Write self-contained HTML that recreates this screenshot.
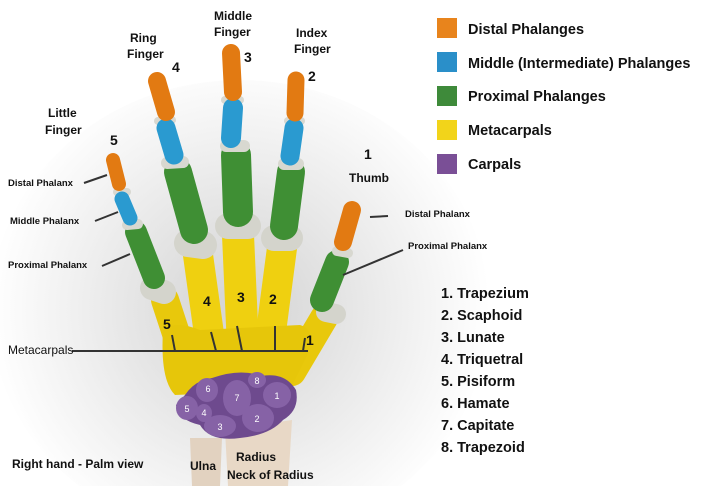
<!DOCTYPE html>
<html><head><meta charset="utf-8"><style>
html,body{margin:0;padding:0;background:#fff;overflow:hidden;width:720px;height:486px;}
svg{display:block;}
text{font-family:"Liberation Sans",sans-serif;fill:#111;}
</style></head><body>
<svg width="720" height="486" viewBox="0 0 720 486" xmlns="http://www.w3.org/2000/svg">
<defs>
<radialGradient id="bg" cx="240" cy="310" r="250" gradientUnits="userSpaceOnUse">
<stop offset="0" stop-color="#d2d2d2"/><stop offset="0.55" stop-color="#ebebeb"/><stop offset="1" stop-color="#ffffff"/>
</radialGradient>
</defs>
<rect width="720" height="486" fill="#fff"/>
<ellipse cx="240" cy="310" rx="250" ry="230" fill="url(#bg)"/>

<!-- forearm -->
<path d="M190 438 L222 438 L220 486 L192 486 Z" fill="#e2d2c0"/>
<path d="M225 430 L292 420 L288 486 L228 486 Z" fill="#e8d8c6"/>

<g stroke-linecap="round" fill="none">
<line x1="165" y1="300" x2="188" y2="370" stroke="#e8c80c" stroke-width="28"/>
<line x1="198" y1="255" x2="214" y2="370" stroke="#efd010" stroke-width="30"/>
<line x1="238" y1="235" x2="244" y2="370" stroke="#efd010" stroke-width="32"/>
<line x1="282" y1="248" x2="266" y2="370" stroke="#efd010" stroke-width="30"/>
<line x1="324" y1="318" x2="292" y2="372" stroke="#e8c80c" stroke-width="28"/>
</g>
<path d="M163 330 Q175 320 200 330 L300 325 Q318 330 305 360 L290 390 L175 395 Q160 380 163 330Z" fill="#e6c60a"/>
<g stroke-linecap="round" fill="none">
<line x1="152" y1="288" x2="164" y2="292" stroke="#d4d4cc" stroke-width="24"/>
<line x1="188" y1="243" x2="203" y2="245" stroke="#d4d4cc" stroke-width="28"/>
<line x1="228" y1="226" x2="248" y2="226" stroke="#d4d4cc" stroke-width="26"/>
<line x1="274" y1="238" x2="290" y2="238" stroke="#d4d4cc" stroke-width="26"/>
<line x1="326" y1="312" x2="336" y2="314" stroke="#d4d4cc" stroke-width="20"/>
<line x1="136" y1="232" x2="154" y2="278" stroke="#3f8f34" stroke-width="22"/>
<line x1="178" y1="172" x2="194" y2="230" stroke="#3f8f34" stroke-width="28"/>
<line x1="236" y1="155" x2="238" y2="212" stroke="#3f8f34" stroke-width="30"/>
<line x1="291" y1="172" x2="284" y2="226" stroke="#3f8f34" stroke-width="28"/>
<line x1="337" y1="262" x2="322" y2="300" stroke="#3f8f34" stroke-width="24"/>
<line x1="127" y1="225" x2="138" y2="224" stroke="#d8d8d0" stroke-width="10"/>
<line x1="167" y1="163" x2="183" y2="162" stroke="#d8d8d0" stroke-width="12"/>
<line x1="226" y1="146" x2="244" y2="146" stroke="#d8d8d0" stroke-width="12"/>
<line x1="284" y1="164" x2="298" y2="164" stroke="#d8d8d0" stroke-width="12"/>
<line x1="337" y1="251" x2="348" y2="253" stroke="#d8d8d0" stroke-width="10"/>
<line x1="117" y1="192" x2="127" y2="192" stroke="#d8d8d0" stroke-width="8"/>
<line x1="158" y1="121" x2="172" y2="120" stroke="#d8d8d0" stroke-width="8"/>
<line x1="225" y1="100" x2="240" y2="100" stroke="#d8d8d0" stroke-width="8"/>
<line x1="288" y1="121" x2="301" y2="121" stroke="#d8d8d0" stroke-width="8"/>
<line x1="122" y1="199" x2="130" y2="218" stroke="#2a9ad0" stroke-width="15"/>
<line x1="166" y1="128" x2="174" y2="155" stroke="#2a9ad0" stroke-width="19"/>
<line x1="233" y1="108" x2="231" y2="138" stroke="#2a9ad0" stroke-width="20"/>
<line x1="294" y1="128" x2="290" y2="156" stroke="#2a9ad0" stroke-width="19"/>
<line x1="113" y1="160" x2="119" y2="184" stroke="#e27a12" stroke-width="14"/>
<line x1="157" y1="81" x2="166" y2="112" stroke="#e27a12" stroke-width="18"/>
<line x1="231" y1="53" x2="233" y2="92" stroke="#e27a12" stroke-width="18"/>
<line x1="296" y1="80" x2="295" y2="113" stroke="#e27a12" stroke-width="17"/>
<line x1="352" y1="210" x2="343" y2="242" stroke="#e27a12" stroke-width="18"/>
</g>

<path d="M185 395 Q195 380 212 378 Q240 368 262 376 Q285 372 296 390 Q300 410 283 420 Q270 435 240 438 Q210 442 200 425 Q178 420 176 405 Z" fill="#6e4a8e"/>
<g fill="#8662a6">
<ellipse cx="187" cy="408" rx="11" ry="12"/>
<ellipse cx="207" cy="390" rx="11" ry="12"/>
<ellipse cx="237" cy="398" rx="14" ry="18"/>
<ellipse cx="257" cy="380" rx="9" ry="8"/>
<ellipse cx="277" cy="395" rx="14" ry="13"/>
<ellipse cx="258" cy="418" rx="16" ry="14"/>
<ellipse cx="220" cy="426" rx="16" ry="11"/>
<ellipse cx="204" cy="413" rx="8" ry="9"/>
</g>
<g font-size="9" text-anchor="middle">
<text x="187" y="412" style="fill:#fff">5</text>
<text x="208" y="392" style="fill:#fff">6</text>
<text x="237" y="401" style="fill:#fff">7</text>
<text x="257" y="384" style="fill:#fff">8</text>
<text x="277" y="399" style="fill:#fff">1</text>
<text x="257" y="422" style="fill:#fff">2</text>
<text x="220" y="430" style="fill:#fff">3</text>
<text x="204" y="416" style="fill:#fff">4</text>
</g>

<g stroke="#333" stroke-width="2">
<line x1="72" y1="351" x2="308" y2="351"/>
<line x1="172" y1="335" x2="175" y2="351"/>
<line x1="211" y1="332" x2="216" y2="351"/>
<line x1="237" y1="326" x2="242" y2="351"/>
<line x1="275" y1="326" x2="275" y2="351"/>
<line x1="305" y1="338" x2="303" y2="351"/>
<line x1="84" y1="183" x2="107" y2="175"/>
<line x1="95" y1="221" x2="118" y2="212"/>
<line x1="102" y1="266" x2="130" y2="254"/>
<line x1="370" y1="217" x2="388" y2="216"/>
<line x1="343" y1="275" x2="403" y2="250"/>
</g>

<g font-weight="bold" font-size="12">
<text x="130" y="42">Ring</text><text x="127" y="58">Finger</text>
<text x="214" y="20">Middle</text><text x="214" y="36">Finger</text>
<text x="296" y="37">Index</text><text x="294" y="53">Finger</text>
<text x="48" y="117">Little</text><text x="45" y="134">Finger</text>
<text x="349" y="182">Thumb</text>
</g>
<g font-weight="bold" font-size="14">
<text x="172" y="72">4</text><text x="244" y="62">3</text><text x="308" y="81">2</text>
<text x="110" y="145">5</text><text x="364" y="159">1</text>
<text x="163" y="329">5</text><text x="203" y="306">4</text><text x="237" y="302">3</text><text x="269" y="304">2</text><text x="306" y="345">1</text>
</g>
<g font-weight="bold" font-size="9.5">
<text x="8" y="186">Distal Phalanx</text>
<text x="10" y="224">Middle Phalanx</text>
<text x="8" y="268">Proximal Phalanx</text>
<text x="405" y="217">Distal Phalanx</text>
<text x="408" y="249">Proximal Phalanx</text>
</g>
<text x="8" y="354" font-size="12">Metacarpals</text>
<text x="12" y="468" font-size="12" font-weight="bold">Right hand - Palm view</text>
<text x="190" y="470" font-size="12" font-weight="bold">Ulna</text>
<text x="236" y="461" font-size="12" font-weight="bold">Radius</text>
<text x="227" y="479" font-size="12" font-weight="bold">Neck of Radius</text>

<rect x="437" y="18" width="20" height="20" fill="#e8841c"/>
<rect x="437" y="52" width="20" height="20" fill="#2a8fc9"/>
<rect x="437" y="86" width="20" height="20" fill="#3e8a3a"/>
<rect x="437" y="120" width="20" height="20" fill="#f2d41a"/>
<rect x="437" y="154" width="20" height="20" fill="#7a4f96"/>
<g font-size="14.5" font-weight="bold">
<text x="468" y="34">Distal Phalanges</text>
<text x="468" y="68">Middle (Intermediate) Phalanges</text>
<text x="468" y="101">Proximal Phalanges</text>
<text x="468" y="135">Metacarpals</text>
<text x="468" y="169">Carpals</text>
</g>
<g font-size="14.5" font-weight="bold">
<text x="441" y="298">1. Trapezium</text>
<text x="441" y="320">2. Scaphoid</text>
<text x="441" y="342">3. Lunate</text>
<text x="441" y="364">4. Triquetral</text>
<text x="441" y="386">5. Pisiform</text>
<text x="441" y="408">6. Hamate</text>
<text x="441" y="430">7. Capitate</text>
<text x="441" y="452">8. Trapezoid</text>
</g>
</svg>
</body></html>
